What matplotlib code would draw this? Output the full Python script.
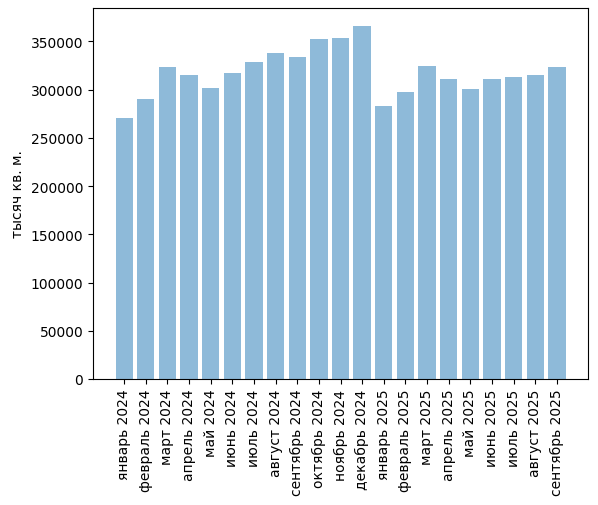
import matplotlib.pyplot as plt

months = ["январь 2024", "февраль 2024", "март 2024", "апрель 2024", "май 2024",
          "июнь 2024", "июль 2024", "август 2024", "сентябрь 2024", "октябрь 2024",
          "ноябрь 2024", "декабрь 2024", "январь 2025", "февраль 2025", "март 2025",
          "апрель 2025", "май 2025", "июнь 2025", "июль 2025", "август 2025",
          "сентябрь 2025"]
values = [270500, 290300, 323700, 315300, 301800, 317300, 328800, 338200, 334000,
          352800, 353800, 366300, 283000, 297600, 324600, 311100, 300700, 311100,
          313200, 315300, 323600]

fig = plt.figure(figsize=(5.98, 5.06), dpi=100)
ax = fig.add_axes([93 / 598, 126 / 506, 495 / 598, 371 / 506])
ax.bar(months, values, alpha=0.5)
ax.set_ylabel("тысяч кв. м.")
ax.tick_params(axis="x", rotation=90)
fig.savefig("out.png", dpi=100)
